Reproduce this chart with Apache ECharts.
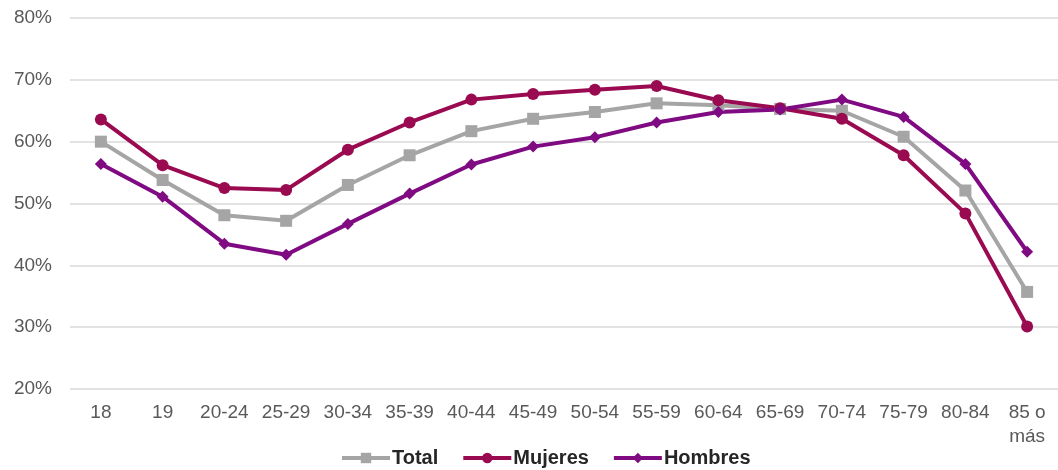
<!DOCTYPE html>
<html><head><meta charset="utf-8">
<script src="https://cdn.jsdelivr.net/npm/echarts@6/dist/echarts.min.js"></script>
<style>html,body{margin:0;padding:0;background:#fff}#c{width:1058px;height:470px}</style>
</head><body><div id="c"></div>
<script>
const categories = ["18","19","20-24","25-29","30-34","35-39","40-44","45-49","50-54","55-59","60-64","65-69","70-74","75-79","80-84","85 o más"];
const total   = [60.0,53.8,48.1,47.2,53.0,57.8,61.7,63.7,64.8,66.2,65.9,65.3,65.0,60.8,52.1,35.7];
const mujeres = [63.6,56.2,52.5,52.2,58.7,63.1,66.8,67.7,68.4,69.0,66.7,65.4,63.7,57.8,48.4,30.1];
const hombres = [56.4,51.1,43.5,41.7,46.7,51.6,56.3,59.2,60.7,63.1,64.8,65.2,66.8,64.0,56.4,42.2];
const yTicks = [20,30,40,50,60,70,80];

const chart = echarts.init(document.getElementById('c'));
const font = 'Liberation Sans, Arial, sans-serif';
function line(name, data, color, symbol, size){
  return {name, type:'line', data, symbol, symbolSize:size, showSymbol:true,
    lineStyle:{color, width:4}, itemStyle:{color}, z: 2};
}
chart.setOption({
  animation:false,
  grid:{left:70, top:18, width:992, height:371, containLabel:false},
  xAxis:{type:'category', data:categories, boundaryGap:true,
    axisLine:{show:false}, axisTick:{show:false},
    axisLabel:{color:'#595959', fontSize:19, fontFamily:font, margin:12, interval:0, lineHeight:24,
      formatter:v=>v.replace(' o más',' o\nmás')}},
  yAxis:{type:'value', min:yTicks[0], max:yTicks[yTicks.length-1], interval:10,
    axisLine:{show:false}, axisTick:{show:false},
    axisLabel:{color:'#595959', fontSize:19, fontFamily:font, margin:18, formatter:v=>v+'%'},
    splitLine:{lineStyle:{color:'#d9d9d9', width:1.5}}},
  legend:{top:443, left:335, itemWidth:48, itemHeight:13, itemGap:23,
    lineStyle:{width:4},
    textStyle:{color:'#262626', fontSize:20, fontWeight:'bold', fontFamily:font, padding:[0,0,0,-3]},
    data:['Total','Mujeres','Hombres']},
  series:[
    line('Total', total, '#A5A5A5', 'rect', 12),
    line('Mujeres', mujeres, '#990A50', 'circle', 12),
    line('Hombres', hombres, '#7F0A82', 'diamond', 12)
  ]
});
</script></body></html>
